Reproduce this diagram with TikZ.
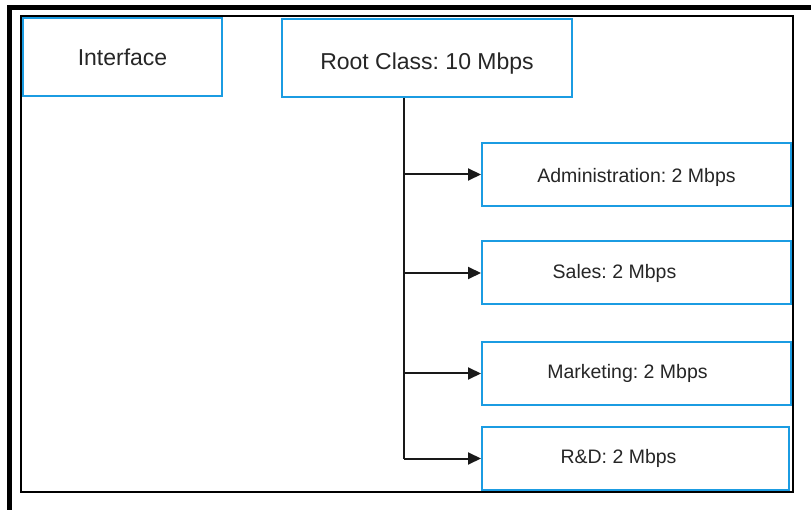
\documentclass[tikz,border=0pt]{standalone}
\usepackage{fontspec}
\setmainfont{Liberation Sans}
\usepackage{xcolor}
\usepackage{tikz}
\usetikzlibrary{arrows.meta, positioning}
\definecolor{boxblue}{RGB}{27,156,226}
\frenchspacing

\begin{document}
\begin{tikzpicture}[x=1pt, y=-1pt,
        topbox/.style={rectangle, draw=boxblue, line width=2pt, fill=white, inner sep=0pt, minimum height=78pt, font=\fontsize{23}{27}\selectfont},
        classbox/.style={rectangle, draw=boxblue, line width=2pt, fill=white, inner sep=0pt, minimum width=309pt, minimum height=63pt},
        classtext/.style={inner sep=0pt, font=\fontsize{19.5}{23}\selectfont, text=black!85},
        branch/.style={line width=2pt, draw=black!90, -{Triangle[length=13pt, width=12pt]}}
    ]
        \useasboundingbox (0,0) rectangle (811,510);

        % Frame
        \draw[line width=4.5pt] (9.5,510) -- (9.5,7.5) -- (811,7.5);
        \draw[line width=1.2pt] (21,16) rectangle (793,492);

        % Interface and root class
        \node[topbox, minimum width=199pt, text=black!85] (iface) at (122.5,57.5) {Interface};
        \node[topbox, minimum width=290pt, label={[font=\fontsize{23}{27}\selectfont, text=black!85, yshift=-6pt]center:Root Class: 10 Mbps}] (root) at (427,58) {};

        % Child classes
        \node[classbox, label={[classtext, yshift=-2.5pt]center:Administration: 2 Mbps}] (admin) at (636.5,174.5) {};
        \node[classbox, label={[classtext, xshift=-22pt]center:Sales: 2 Mbps}] (sales) at (636.5,273) {};
        \node[classbox, label={[classtext, xshift=-9pt]center:Marketing: 2 Mbps}] (mkt) at (636.5,373.5) {};
        \node[classbox, minimum width=307pt, label={[classtext, xshift=-17pt]center:R\&D: 2 Mbps}] (rnd) at (635.5,458.5) {};

        % Links
        \coordinate (trunk) at (404,458.5);
        \draw[line width=2pt, draw=black!90] (root.south -| trunk) -- (trunk);
        \draw[branch] (trunk |- admin.west) -- (admin.west);
        \draw[branch] (trunk |- sales.west) -- (sales.west);
        \draw[branch] (trunk |- mkt.west) -- (mkt.west);
        \draw[branch] (trunk) -- (rnd.west);

    \end{tikzpicture}
\end{document}
